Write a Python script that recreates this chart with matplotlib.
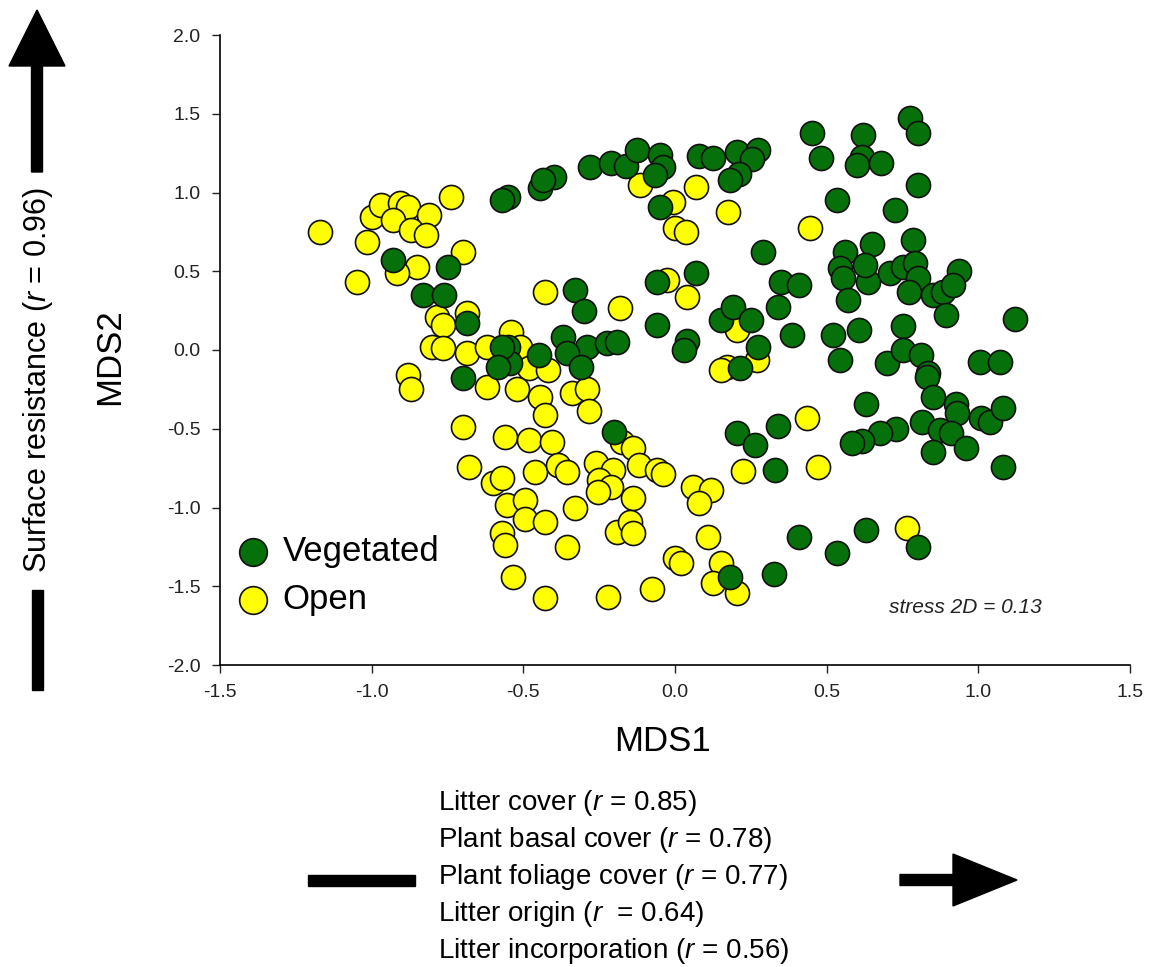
import matplotlib
matplotlib.use("Agg")
import matplotlib.pyplot as plt
from matplotlib.patches import FancyArrow, Rectangle
from matplotlib.transforms import IdentityTransform

plt.rcParams["font.family"] = ["Liberation Sans", "DejaVu Sans"]
plt.rcParams["mathtext.fontset"] = "custom"
plt.rcParams["mathtext.rm"] = "Liberation Sans"
plt.rcParams["mathtext.it"] = "Liberation Sans:italic"

# NMDS scores (MDS1, MDS2)
vegetated = [
    (-0.55, 0.97), (-0.57, 0.95), (-0.445, 1.03), (-0.40, 1.10), (-0.435, 1.08),
    (-0.28, 1.16), (-0.21, 1.19), (-0.16, 1.17), (-0.125, 1.27), (-0.05, 1.24),
    (-0.04, 1.16), (-0.065, 1.11), (-0.05, 0.91), (0.08, 1.23), (0.125, 1.22),
    (0.205, 1.26), (0.275, 1.27), (0.255, 1.21), (0.21, 1.12), (0.18, 1.08),
    (0.45, 1.38), (0.48, 1.22), (0.29, 0.62), (-0.06, 0.43), (0.07, 0.49),
    (-0.33, 0.38), (-0.30, 0.25), (-0.06, 0.16), (0.04, 0.06), (0.03, 0.0),
    (0.15, 0.19), (0.19, 0.27), (0.25, 0.19), (0.35, 0.43), (0.41, 0.41),
    (0.34, 0.27), (0.385, 0.095), (0.275, 0.02), (0.215, -0.115), (-0.37, 0.08),
    (-0.29, 0.02), (-0.225, 0.045), (-0.19, 0.05), (-0.45, -0.03), (-0.355, -0.02),
    (-0.31, -0.11), (-0.55, 0.02), (-0.545, -0.08), (-0.93, 0.57), (-0.75, 0.53),
    (-0.83, 0.35), (-0.76, 0.35), (-0.685, 0.17), (-0.57, 0.02), (-0.585, -0.11),
    (-0.70, -0.18), (0.775, 1.47), (0.80, 1.38), (0.62, 1.365), (0.615, 1.225),
    (0.60, 1.175), (0.68, 1.19), (0.80, 1.05), (0.535, 0.95), (0.725, 0.89),
    (0.785, 0.70), (0.56, 0.62), (0.65, 0.67), (0.545, 0.52), (0.555, 0.46),
    (0.635, 0.43), (0.625, 0.54), (0.71, 0.49), (0.75, 0.53), (0.79, 0.55),
    (0.80, 0.46), (0.77, 0.37), (0.85, 0.35), (0.885, 0.37), (0.935, 0.50),
    (0.915, 0.41), (0.57, 0.32), (0.895, 0.22), (1.12, 0.20), (0.52, 0.095),
    (0.605, 0.13), (0.75, 0.15), (0.545, -0.065), (0.70, -0.08), (0.75, 0.0),
    (0.81, -0.03), (0.835, -0.145), (1.005, -0.075), (1.07, -0.075), (0.83, -0.17),
    (0.85, -0.30), (0.925, -0.34), (0.93, -0.40), (1.01, -0.43), (1.04, -0.46),
    (1.08, -0.37), (0.63, -0.34), (0.815, -0.46), (0.73, -0.50), (0.675, -0.53),
    (0.615, -0.58), (0.585, -0.59), (0.875, -0.51), (0.91, -0.53), (0.85, -0.65),
    (0.96, -0.62), (1.08, -0.74), (0.63, -1.14), (0.535, -1.29), (0.80, -1.25),
    (0.41, -1.19), (-0.20, -0.52), (0.205, -0.53), (0.265, -0.60), (0.34, -0.48),
    (0.33, -0.76), (0.18, -1.44), (0.325, -1.42),
]

open_sites = [
    (-0.115, 1.05), (0.07, 1.035), (-0.005, 0.94), (0.0, 0.775), (0.035, 0.75),
    (0.175, 0.875), (0.445, 0.775), (-0.43, 0.37), (-0.18, 0.265), (-0.025, 0.445),
    (0.04, 0.335), (0.205, 0.125), (0.17, -0.11), (0.27, -0.065), (-0.54, 0.115),
    (-0.51, 0.02), (-0.48, -0.115), (-0.42, -0.125), (-1.17, 0.75), (-1.0, 0.845),
    (-0.97, 0.92), (-0.905, 0.935), (-0.88, 0.91), (-0.81, 0.86), (-0.93, 0.825),
    (-0.87, 0.76), (-0.82, 0.73), (-0.74, 0.97), (-1.015, 0.685), (-0.70, 0.62),
    (-0.85, 0.53), (-0.915, 0.49), (-1.05, 0.43), (-0.785, 0.21), (-0.765, 0.16),
    (-0.685, 0.235), (-0.80, 0.02), (-0.765, 0.01), (-0.685, -0.02), (-0.62, 0.02),
    (-0.88, -0.16), (-0.87, -0.25), (-0.70, -0.49), (-0.56, -0.55), (-0.68, -0.74),
    (-0.60, -0.845), (-0.57, -0.81), (-0.555, -0.985), (-0.57, -1.16), (-0.56, -1.24),
    (-0.535, -1.44), (-0.62, -0.235), (-0.52, -0.25), (-0.445, -0.30), (-0.43, -0.41),
    (-0.34, -0.27), (-0.29, -0.25), (-0.285, -0.39), (-0.48, -0.57), (-0.405, -0.585),
    (-0.175, -0.585), (-0.14, -0.62), (-0.46, -0.775), (-0.385, -0.73), (-0.355, -0.775),
    (-0.26, -0.72), (-0.205, -0.76), (-0.12, -0.73), (-0.06, -0.76), (-0.04, -0.79),
    (-0.25, -0.825), (-0.21, -0.87), (-0.255, -0.90), (-0.495, -0.95), (-0.495, -1.07),
    (-0.43, -1.09), (-0.33, -1.0), (-0.14, -0.94), (-0.19, -1.155), (-0.15, -1.09),
    (-0.14, -1.16), (0.06, -0.87), (0.12, -0.89), (0.08, -0.97), (-0.355, -1.25),
    (0.11, -1.19), (0.0, -1.32), (0.02, -1.35), (0.15, -1.35), (0.125, -1.48),
    (0.205, -1.54), (-0.43, -1.575), (-0.22, -1.57), (-0.075, -1.52), (0.225, -0.77),
    (0.15, -0.13), (0.435, -0.43), (0.47, -0.74), (0.765, -1.13),
]

x_ticks = [-1.5, -1.0, -0.5, 0.0, 0.5, 1.0, 1.5]
y_ticks = [-2.0, -1.5, -1.0, -0.5, 0.0, 0.5, 1.0, 1.5, 2.0]

vector_lines = [
    "Litter cover ($r$ = 0.85)",
    "Plant basal cover ($r$ = 0.78)",
    "Plant foliage cover ($r$ = 0.77)",
    "Litter origin ($r$  = 0.64)",
    "Litter incorporation ($r$ = 0.56)",
]
stress = 0.13

GREEN = "#06700a"
YELLOW = "#ffff00"
W, H = 1156, 967

fig = plt.figure(figsize=(W / 100, H / 100), dpi=100)
ax = fig.add_axes([220 / W, 1 - 665 / H, 910 / W, 630 / H])

ox, oy = zip(*open_sites)
vx, vy = zip(*vegetated)
ax.scatter(ox, oy, s=300, c=YELLOW, edgecolors="#111111", linewidths=1.2,
           label="Open", zorder=2)
ax.scatter(vx, vy, s=300, c=GREEN, edgecolors="#111111", linewidths=1.2,
           label="Vegetated", zorder=3)

ax.set_xlim(-1.5, 1.5)
ax.set_ylim(-2.0, 2.0)
ax.set_xticks(x_ticks)
ax.set_yticks(y_ticks)
ax.set_xticklabels([f"{t:.1f}" for t in x_ticks])
ax.set_yticklabels([f"{t:.1f}" for t in y_ticks])
ax.tick_params(direction="out", length=6, width=1, labelsize=14, pad=8,
               colors="#222222")
for side in ("top", "right"):
    ax.spines[side].set_visible(False)
for side in ("left", "bottom"):
    ax.spines[side].set_linewidth(1.2)

ax.set_xlabel("MDS1", fontsize=25)
ax.xaxis.set_label_coords(0.486, -0.095)
ax.set_ylabel("MDS2", fontsize=25)
ax.yaxis.set_label_coords(-0.103, 0.49)

handles, labels = ax.get_legend_handles_labels()
ax.legend(handles[::-1], labels[::-1], loc="lower left",
          bbox_to_anchor=(16 / 910, 49 / 630), frameon=False, fontsize=25,
          markerscale=1.15, handlelength=1.0, handletextpad=0.35,
          labelspacing=0.43, borderaxespad=0, borderpad=0)

ax.text(0.903, 0.092, f"stress 2D = {stress:.2f}", transform=ax.transAxes,
        ha="right", va="center", fontsize=15, style="italic", color="#222222")

# environmental vectors drawn outside the axes
fig.text(38 / W, 1 - 380 / H, "Surface resistance ($r$ = 0.96)", rotation=90,
         ha="center", va="center", fontsize=22)
for i, line in enumerate(vector_lines):
    fig.text(438 / W, 1 - (803 + 37 * i) / H, line, ha="left", va="center",
             fontsize=20)

px = IdentityTransform()
fig.add_artist(FancyArrow(37, H - 172, 0, 162, width=11, head_width=56,
                          head_length=56, length_includes_head=True,
                          color="black", transform=px))
fig.add_artist(Rectangle((31.5, H - 690), 11, 100, color="black", transform=px))
fig.add_artist(Rectangle((308, H - 885.5), 107, 11, color="black", transform=px))
fig.add_artist(FancyArrow(900, H - 880, 117, 0, width=11, head_width=52,
                          head_length=64, length_includes_head=True,
                          color="black", transform=px))

fig.savefig("out.png", dpi=100)
